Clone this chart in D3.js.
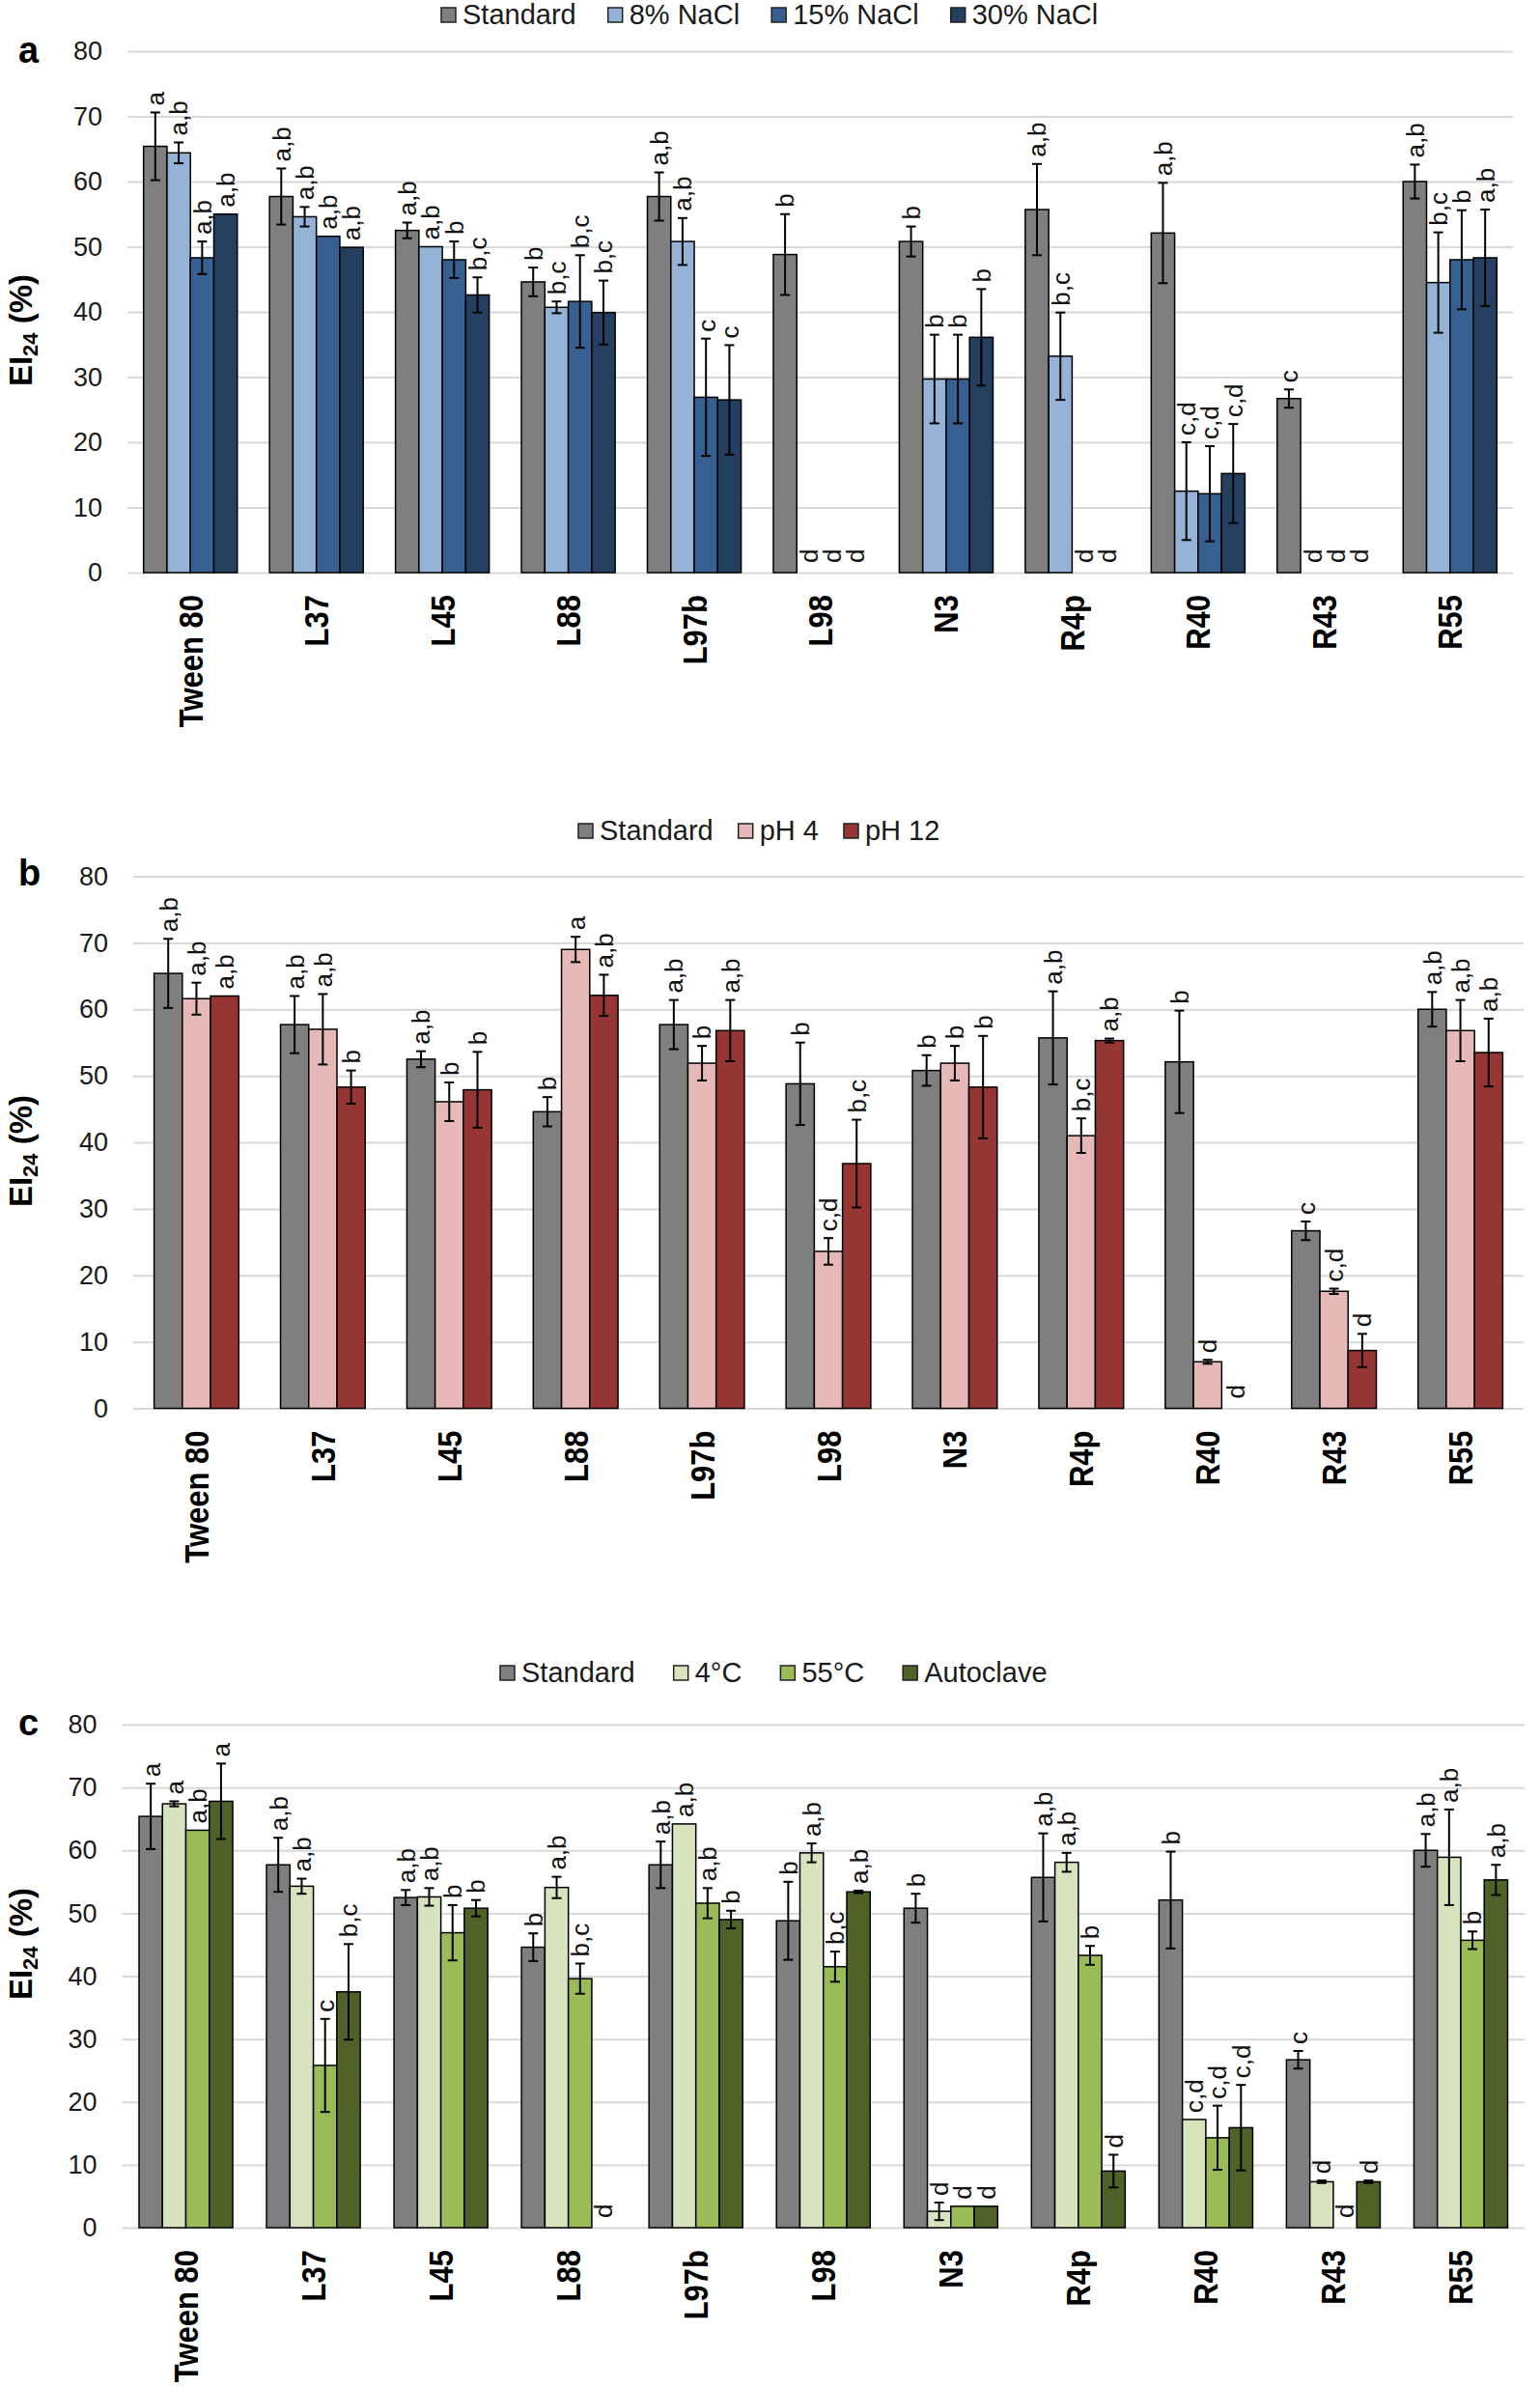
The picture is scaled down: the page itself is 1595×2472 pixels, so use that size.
<!DOCTYPE html>
<meta charset="utf-8">
<style>

    body {
        margin: 0;
        background: #fff;
    }

    text {
        font-family: Arial, "Liberation Sans", sans-serif;
    }

    rect.bar {
        stroke: #000;
        stroke-width: 1.5;
    }

    line.err {
        stroke: #000;
        stroke-width: 2;
    }

</style>
<body>
<script src="https://cdn.jsdelivr.net/npm/d3@7/dist/d3.min.js"></script>
<script>

    /////////////////////////////////
    // DATA
    /////////////////////////////////

    var categories = ["Tween 80", "L37", "L45", "L88", "L97b", "L98", "N3", "R4p", "R40", "R43", "R55"];
    var yTicks = [0, 10, 20, 30, 40, 50, 60, 70, 80];

    var standardValues = [65.4, 57.7, 52.5, 44.6, 57.7, 48.8, 50.8, 55.7, 52.1, 26.7, 60.0];
    var standardErrors = [5.2, 4.3, 1.2, 2.2, 3.7, 6.2, 2.3, 7.0, 7.7, 1.4, 2.6];

    // a - salinity
    var saltSeries = ["Standard", "8% NaCl", "15% NaCl", "30% NaCl"];
    var salt8Values = [64.4, 54.6, 50.0, 40.7, 50.8, 0, 29.7, 33.2, 12.5, 0, 44.5];
    var salt8Errors = [1.6, 1.5, 0, 0.9, 3.6, 0, 6.8, 6.7, 7.5, 0, 7.7];
    var salt15Values = [48.3, 51.6, 48.0, 41.6, 26.9, 0, 29.7, 0, 12.1, 0, 48.0];
    var salt15Errors = [2.5, 0, 2.8, 7.1, 9.0, 0, 6.8, 0, 7.3, 0, 7.6];
    var salt30Values = [55.0, 49.9, 42.6, 39.9, 26.5, 0, 36.1, 0, 15.2, 0, 48.3];
    var salt30Errors = [0, 0, 2.7, 4.9, 8.4, 0, 7.4, 0, 7.6, 0, 7.4];
    var saltStandardLetters = ["a", "a,b", "a,b", "b", "a,b", "b", "b", "a,b", "a,b", "c", "a,b"];
    var salt8Letters = ["a,b", "a,b", "a,b", "b,c", "a,b", "d", "b", "b,c", "c,d", "d", "b,c"];
    var salt15Letters = ["a,b", "a,b", "b", "b,c", "c", "d", "b", "d", "c,d", "d", "b"];
    var salt30Letters = ["a,b", "a,b", "b,c", "b,c", "c", "d", "b", "d", "c,d", "d", "a,b"];

    // b - pH
    var phSeries = ["Standard", "pH 4", "pH 12"];
    var ph4Values = [61.6, 57.0, 46.1, 69.0, 51.9, 23.6, 51.9, 41.0, 7.0, 17.6, 56.8];
    var ph4Errors = [2.4, 5.3, 2.9, 1.9, 2.6, 2.0, 2.6, 2.6, 0.3, 0.4, 4.6];
    var ph12Values = [62.0, 48.3, 47.9, 62.1, 56.8, 36.8, 48.3, 55.3, 0, 8.7, 53.5];
    var ph12Errors = [0, 2.5, 5.7, 3.1, 4.6, 6.6, 7.7, 0.3, 0, 2.5, 5.1];
    var phStandardLetters = ["a,b", "a,b", "a,b", "b", "a,b", "b", "b", "a,b", "b", "c", "a,b"];
    var ph4Letters = ["a,b", "a,b", "b", "a", "b", "c,d", "b", "b,c", "d", "c,d", "a,b"];
    var ph12Letters = ["a,b", "b", "b", "a,b", "a,b", "b,c", "b", "a,b", "d", "d", "a,b"];

    // c - temperature
    var tempSeries = ["Standard", "4°C", "55°C", "Autoclave"];
    var temp4Values = [67.4, 54.3, 52.6, 54.1, 64.2, 59.6, 2.6, 58.1, 17.2, 7.3, 58.9];
    var temp4Errors = [0.4, 1.2, 1.4, 1.7, 0, 1.5, 1.4, 1.5, 0, 0.2, 7.6];
    var temp55Values = [63.2, 25.8, 46.9, 39.6, 51.6, 41.5, 3.4, 43.3, 14.3, 0, 45.7];
    var temp55Errors = [0, 7.4, 4.4, 2.4, 2.4, 2.4, 0, 1.5, 5.1, 0, 1.4];
    var autoclaveValues = [67.8, 37.5, 50.8, 0, 49.0, 53.4, 3.4, 9.0, 15.9, 7.3, 55.3];
    var autoclaveErrors = [6.0, 7.6, 1.3, 0, 1.4, 0.2, 0, 2.6, 6.8, 0.2, 2.4];
    var tempStandardLetters = ["a", "a,b", "a,b", "b", "a,b", "b", "b", "a,b", "b", "c", "a,b"];
    var temp4Letters = ["a", "a,b", "a,b", "a,b", "a,b", "a,b", "d", "a,b", "c,d", "d", "a,b"];
    var temp55Letters = ["a,b", "c", "b", "b,c", "a,b", "b,c", "d", "b", "c,d", "d", "b"];
    var autoclaveLetters = ["a", "b,c", "b", "d", "b", "a,b", "d", "d", "c,d", "d", "a,b"];

    /////////////////////////////////
    // PANELS
    /////////////////////////////////

    var panels = [
        {
            tag: "a", left: 132, right: 1567, top: 53, bottom: 593, pad: 0.256,
            legendX: 457, legendY: 15, legendGap: 33, titleY: 342, tagY: 65,
            names: saltSeries,
            colors: ["#7f7f7f", "#95b3d7", "#376092", "#243f60"],
            values: [standardValues, salt8Values, salt15Values, salt30Values],
            errors: [standardErrors, salt8Errors, salt15Errors, salt30Errors],
            letters: [saltStandardLetters, salt8Letters, salt15Letters, salt30Letters]
        },
        {
            tag: "b", left: 138, right: 1578, top: 907.5, bottom: 1458.5, pad: 0.33,
            legendX: 599, legendY: 860, legendGap: 26, titleY: 1192, tagY: 917,
            names: phSeries,
            colors: ["#7f7f7f", "#e6b9b8", "#963634"],
            values: [standardValues, ph4Values, ph12Values],
            errors: [standardErrors, ph4Errors, ph12Errors],
            letters: [phStandardLetters, ph4Letters, ph12Letters]
        },
        {
            tag: "c", left: 126.5, right: 1579, top: 1786, bottom: 2307, pad: 0.265,
            legendX: 518, legendY: 1732, legendGap: 40, titleY: 2013, tagY: 1797,
            names: tempSeries,
            colors: ["#7f7f7f", "#d7e4bd", "#9bbb59", "#4f6228"],
            values: [standardValues, temp4Values, temp55Values, autoclaveValues],
            errors: [standardErrors, temp4Errors, temp55Errors, autoclaveErrors],
            letters: [tempStandardLetters, temp4Letters, temp55Letters, autoclaveLetters]
        }
    ];

    var width = 1595;
    var height = 2472;

    var svg = d3.select("body").append("svg")
        .attr("width", width)
        .attr("height", height);

    function drawPanel(p) {

        var g = svg.append("g");

        var x = d3.scaleBand()
            .domain(categories)
            .range([p.left, p.right])
            .paddingInner(p.pad)
            .paddingOuter(p.pad / 2);

        var xs = d3.scaleBand()
            .domain(d3.range(p.names.length))
            .range([0, x.bandwidth()]);

        var y = d3.scaleLinear()
            .domain([0, 80])
            .range([p.bottom, p.top]);

        /////////////////////////////////
        // GRID + Y AXIS
        /////////////////////////////////

        var axis = g.append("g")
            .attr("transform", "translate(" + p.left + ",0)")
            .call(d3.axisLeft(y)
                .tickValues(yTicks)
                .tickSizeInner(-(p.right - p.left))
                .tickSizeOuter(0)
                .tickPadding(26));

        axis.select(".domain").remove();
        axis.selectAll(".tick line")
            .attr("stroke", "#d9d9d9")
            .attr("stroke-width", 2);
        axis.selectAll(".tick text")
            .attr("fill", "#1a1a1a")
            .style("font-family", "Arial, 'Liberation Sans', sans-serif")
            .style("font-size", "27px");

        /////////////////////////////////
        // BARS
        /////////////////////////////////

        var rows = [];
        p.names.forEach(function (name, s) {
            categories.forEach(function (cat, i) {
                rows.push({
                    cat: cat,
                    s: s,
                    value: p.values[s][i],
                    err: p.errors[s][i],
                    letter: p.letters[s][i]
                });
            });
        });

        g.selectAll("rect.bar")
            .data(rows.filter(function (d) {
                return d.value > 0;
            }))
            .enter()
            .append("rect")
            .attr("class", "bar")
            .attr("x", function (d) {
                return x(d.cat) + xs(d.s);
            })
            .attr("width", xs.bandwidth())
            .attr("y", function (d) {
                return y(d.value);
            })
            .attr("height", function (d) {
                return y(0) - y(d.value);
            })
            .style("fill", function (d) {
                return p.colors[d.s];
            });

        /////////////////////////////////
        // ERROR BARS
        /////////////////////////////////

        var withErr = rows.filter(function (d) {
            return d.err > 0;
        });

        function cx(d) {
            return x(d.cat) + xs(d.s) + xs.bandwidth() / 2;
        }

        g.selectAll("line.errv")
            .data(withErr)
            .enter()
            .append("line")
            .attr("class", "err")
            .attr("x1", cx)
            .attr("x2", cx)
            .attr("y1", function (d) {
                return y(d.value + d.err);
            })
            .attr("y2", function (d) {
                return y(Math.max(d.value - d.err, 0));
            });

        [1, -1].forEach(function (sign) {
            g.selectAll("line.cap" + sign)
                .data(withErr)
                .enter()
                .append("line")
                .attr("class", "err")
                .attr("x1", function (d) {
                    return cx(d) - 5;
                })
                .attr("x2", function (d) {
                    return cx(d) + 5;
                })
                .attr("y1", function (d) {
                    return y(Math.max(d.value + sign * d.err, 0));
                })
                .attr("y2", function (d) {
                    return y(Math.max(d.value + sign * d.err, 0));
                });
        });

        /////////////////////////////////
        // LETTERS
        /////////////////////////////////

        g.selectAll("text.letter")
            .data(rows)
            .enter()
            .append("text")
            .attr("class", "letter")
            .attr("transform", function (d) {
                var top = d.value > 0 ? y(d.value + d.err) - 7 : y(0) - 10;
                return "translate(" + cx(d) + "," + top + ") rotate(-90)";
            })
            .attr("dy", "0.36em")
            .style("font-size", "26px")
            .style("fill", "#111")
            .text(function (d) {
                return d.letter;
            });

        /////////////////////////////////
        // CATEGORY LABELS
        /////////////////////////////////

        g.selectAll("text.cat")
            .data(categories)
            .enter()
            .append("text")
            .attr("class", "cat")
            .attr("transform", function (d) {
                return "translate(" + (x(d) + x.bandwidth() / 2) + "," + (p.bottom + 23) + ") rotate(-90) scale(1,1.12)";
            })
            .attr("dy", "0.36em")
            .attr("text-anchor", "end")
            .style("font-size", "31px")
            .style("font-weight", "bold")
            .text(function (d) {
                return d;
            });

        /////////////////////////////////
        // LEGEND
        /////////////////////////////////

        var lx = p.legendX;
        p.names.forEach(function (name, s) {
            g.append("rect")
                .attr("x", lx)
                .attr("y", p.legendY - 7)
                .attr("width", 15)
                .attr("height", 15)
                .style("fill", p.colors[s])
                .style("stroke", "#222")
                .style("stroke-width", 1.5);
            var t = g.append("text")
                .attr("x", lx + 22)
                .attr("y", p.legendY)
                .attr("dy", "0.35em")
                .style("font-size", "29px")
                .style("fill", "#1a1a1a")
                .text(name);
            lx = lx + 22 + t.node().getComputedTextLength() + p.legendGap;
        });

        /////////////////////////////////
        // TAG + Y TITLE
        /////////////////////////////////

        g.append("text")
            .attr("x", 19)
            .attr("y", p.tagY)
            .style("font-size", "38px")
            .style("font-weight", "bold")
            .text(p.tag);

        var title = g.append("text")
            .attr("transform", "translate(33," + p.titleY + ") rotate(-90)")
            .attr("text-anchor", "middle")
            .style("font-size", "33px")
            .style("font-weight", "bold");
        title.append("tspan").text("EI");
        title.append("tspan")
            .attr("baseline-shift", "-25%")
            .style("font-size", "22px")
            .text("24");
        title.append("tspan").text(" (%)");
    }

    panels.forEach(drawPanel);

</script>
</body>
</html>
